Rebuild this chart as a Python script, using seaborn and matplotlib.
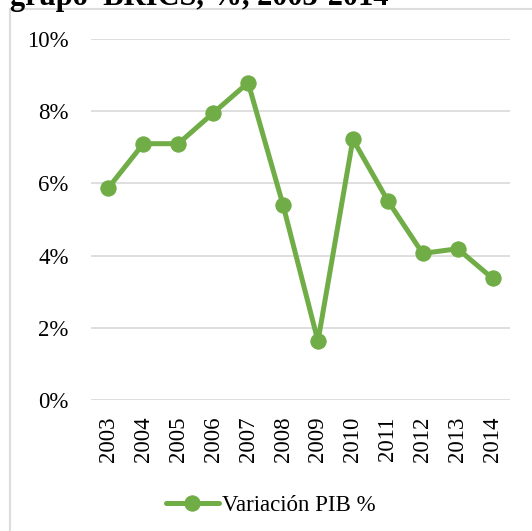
"""Variación del PIB del grupo BRICS, 2003-2014 (line chart, Excel style)."""

import matplotlib

matplotlib.use("Agg")
import matplotlib.pyplot as plt
import pandas as pd
import seaborn as sns
from matplotlib.patches import Rectangle

YEARS = ["2003", "2004", "2005", "2006", "2007", "2008",
         "2009", "2010", "2011", "2012", "2013", "2014"]
PIB_VARIATION = [5.88, 7.10, 7.10, 7.95, 8.79, 5.40,
                 1.63, 7.22, 5.52, 4.06, 4.19, 3.37]
Y_TICKS = [0, 2, 4, 6, 8, 10]
SERIES_LABEL = "Variación PIB %"
TITLE = "grupo  BRICS, %, 2003-2014"

GREEN = "#70AD47"
GRID = "#D9D9D9"


def main() -> None:
    sns.set_style("white")
    plt.rcParams["font.family"] = ["Liberation Serif", "DejaVu Serif"]
    plt.rcParams["text.color"] = "black"
    plt.rcParams["xtick.color"] = "black"
    plt.rcParams["ytick.color"] = "black"

    df = pd.DataFrame({"year": YEARS, "value": PIB_VARIATION})

    fig = plt.figure(figsize=(5.32, 5.31), dpi=100)
    ax = fig.add_axes([91 / 532, 1 - 400 / 531, (510 - 91) / 532, (400 - 39) / 531])

    sns.lineplot(
        data=df, x="year", y="value", ax=ax, color=GREEN,
        linewidth=3.6, marker="o", markersize=11,
        markeredgecolor=GREEN, markerfacecolor=GREEN,
        label=SERIES_LABEL, zorder=3,
    )

    ax.set_xlim(-0.5, len(YEARS) - 0.5)
    ax.set_ylim(0, 10)
    ax.set_yticks(Y_TICKS)
    ax.set_yticklabels([f"{v}%" for v in Y_TICKS])
    ax.yaxis.grid(True, color=GRID, linewidth=1.2)
    ax.xaxis.grid(False)
    for spine in ax.spines.values():
        spine.set_visible(False)
    ax.set_xlabel("")
    ax.set_ylabel("")
    ax.tick_params(axis="x", length=0, pad=12, labelsize=16.5, rotation=90)
    ax.tick_params(axis="y", length=0, pad=16, labelsize=16.5)

    handles, labels = ax.get_legend_handles_labels()
    ax.get_legend().remove()
    fig.legend(
        handles, labels, loc="center", bbox_to_anchor=(271 / 532, 1 - 505 / 531),
        frameon=False, fontsize=16.5, handlelength=2.3, handletextpad=0.15,
    )

    # chart area frame (cut by the image edges)
    fig.add_artist(Rectangle(
        (10 / 532, -0.2), 1.5, 1.2 - 9 / 531, transform=fig.transFigure,
        fill=False, edgecolor="#DDDDDD", linewidth=1.5,
    ))

    # title sits mostly above the visible area, as in the source screenshot
    fig.text(10 / 532, 1 - 5 / 531, TITLE, fontsize=22, fontweight="bold",
             va="baseline", ha="left")

    fig.savefig("out.png", dpi=100)
    plt.close(fig)


if __name__ == "__main__":
    main()
